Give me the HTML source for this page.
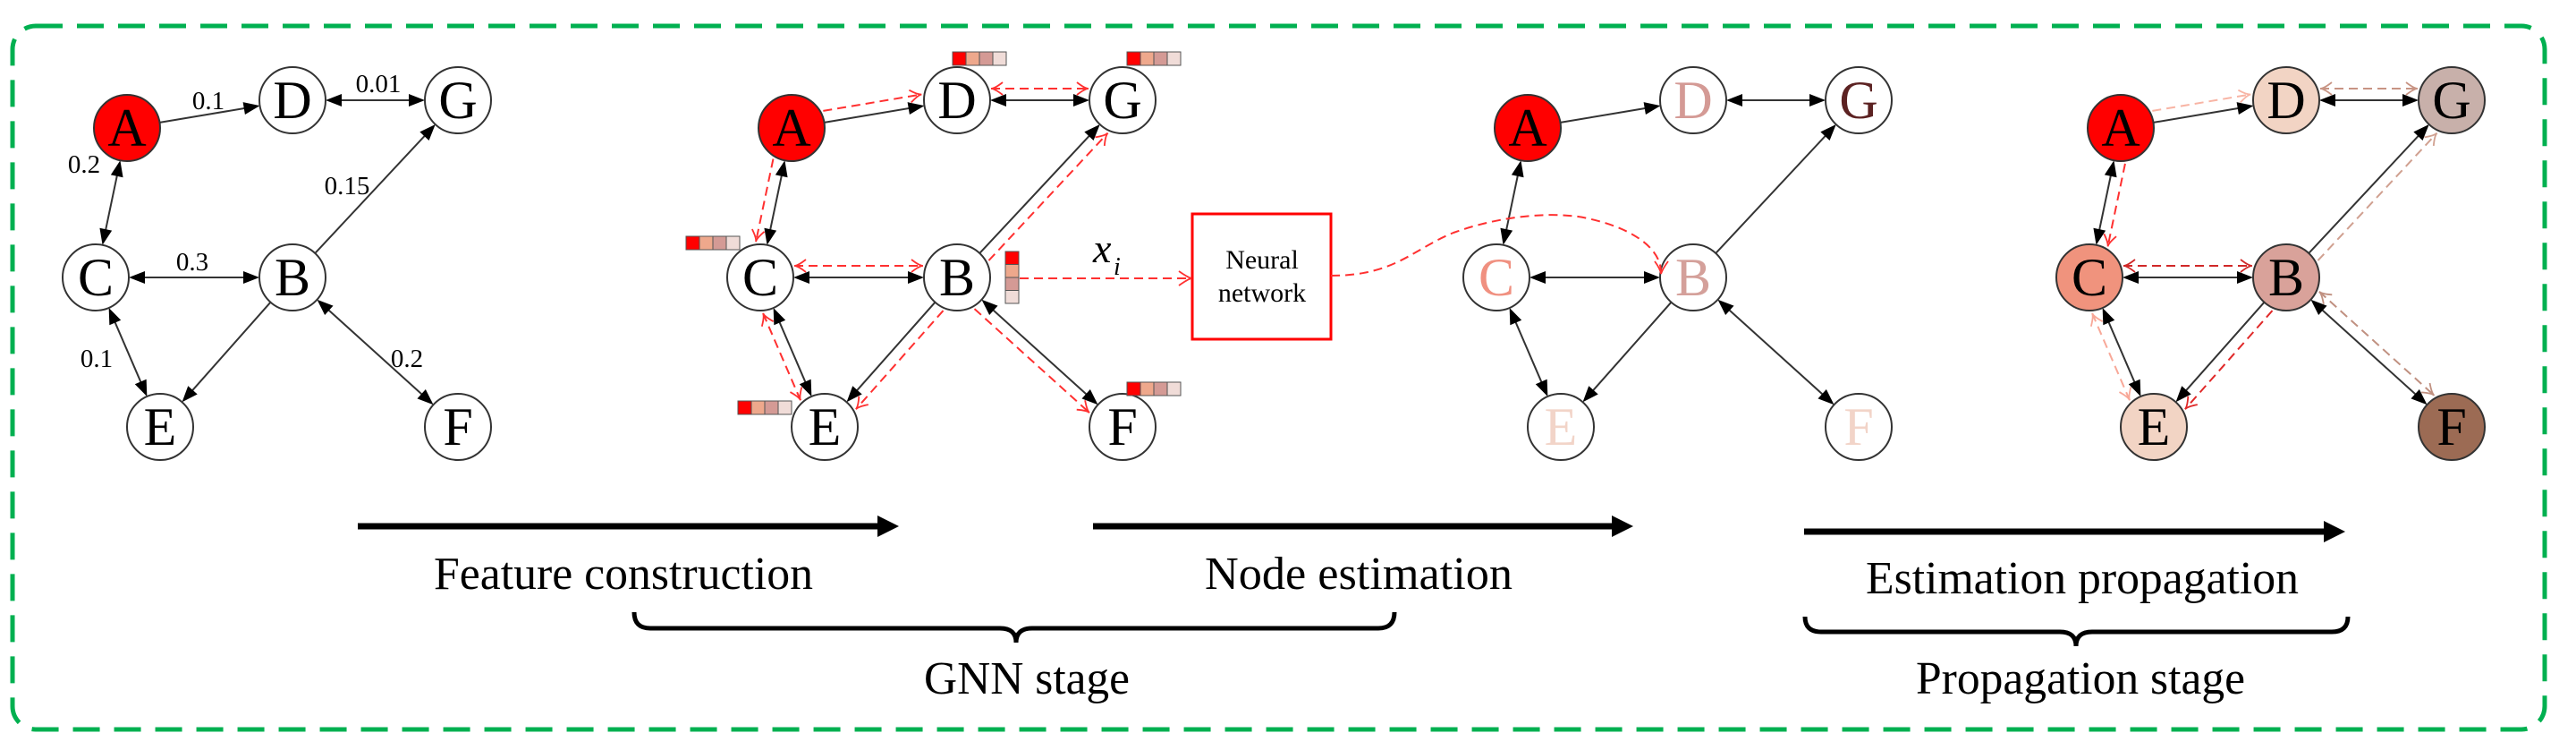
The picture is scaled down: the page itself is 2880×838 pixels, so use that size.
<!DOCTYPE html>
<html><head><meta charset="utf-8"><style>
html,body{margin:0;padding:0;background:#fff;}
svg{display:block;}
svg text{font-family:"Liberation Serif","Times New Roman",Times,"DejaVu Serif","Noto Serif CJK SC",serif !important;}
</style></head><body>
<svg id="s" width="2880" height="838" viewBox="0 0 2880 838" xmlns="http://www.w3.org/2000/svg">
<rect x="14" y="29" width="2831" height="786" rx="26" ry="26" fill="none" stroke="#00b050" stroke-width="5" stroke-dasharray="30 16"/>
<g id="edges"></g>
<g id="nodes"></g>
<g id="bars"></g>
<rect x="1333" y="239" width="155" height="140" fill="#fff" stroke="#ff0000" stroke-width="3"/>
<text x="1411" y="300" font-size="30" text-anchor="middle">Neural</text>
<text x="1411" y="337" font-size="30" text-anchor="middle">network</text>
<text x="1222" y="293" font-size="46" font-style="italic">x</text>
<text x="1245" y="307" font-size="28" font-style="italic">i</text>
<g font-size="29" text-anchor="middle">
<text x="233" y="122">0.1</text>
<text x="423" y="103">0.01</text>
<text x="94" y="193">0.2</text>
<text x="388" y="217">0.15</text>
<text x="215" y="302">0.3</text>
<text x="108" y="410">0.1</text>
<text x="455" y="410">0.2</text>
</g>
<g font-size="60" text-anchor="middle" id="labels">
<text x="142" y="163">A</text><text x="327" y="132">D</text><text x="512" y="132">G</text><text x="107" y="330">C</text><text x="327" y="330">B</text><text x="179" y="497">E</text><text x="512" y="497">F</text>
<text x="885" y="163">A</text><text x="1070" y="132">D</text><text x="1255" y="132">G</text><text x="850" y="330">C</text><text x="1070" y="330">B</text><text x="922" y="497">E</text><text x="1255" y="497">F</text>
<text x="1708" y="163">A</text><text x="1893" y="132" fill="#d49a95">D</text><text x="2078" y="132" fill="#5c2222">G</text><text x="1673" y="330" fill="#f09080">C</text><text x="1893" y="330" fill="#d4a09a">B</text><text x="1745" y="497" fill="#f2d4c8">E</text><text x="2078" y="497" fill="#f2d4c8">F</text>
<text x="2371" y="163">A</text><text x="2556" y="132">D</text><text x="2741" y="132">G</text><text x="2336" y="330">C</text><text x="2556" y="330">B</text><text x="2408" y="497">E</text><text x="2741" y="497">F</text>
</g>
<g fill="#000">
<line x1="400" y1="588" x2="985" y2="588" stroke="#000" stroke-width="7"/>
<polygon points="981,576 1005,588 981,600"/>
<line x1="1222" y1="588" x2="1806" y2="588" stroke="#000" stroke-width="7"/>
<polygon points="1802,576 1826,588 1802,600"/>
<line x1="2017" y1="594" x2="2602" y2="594" stroke="#000" stroke-width="7"/>
<polygon points="2598,582 2622,594 2598,606"/>
</g>
<g font-size="52" text-anchor="middle">
<text x="697" y="658" textLength="424" lengthAdjust="spacingAndGlyphs">Feature construction</text>
<text x="1519" y="658" textLength="344" lengthAdjust="spacingAndGlyphs">Node estimation</text>
<text x="2328" y="663" textLength="484" lengthAdjust="spacingAndGlyphs">Estimation propagation</text>
<text x="1148" y="775" textLength="230" lengthAdjust="spacingAndGlyphs">GNN stage</text>
<text x="2326" y="775" textLength="368" lengthAdjust="spacingAndGlyphs">Propagation stage</text>
</g>
<g fill="none" stroke="#000" stroke-width="5">
<path d="M709,684 Q709,702 727,702 L1118,702 Q1136,702 1136,718 Q1136,702 1154,702 L1541,702 Q1559,702 1559,684"/>
<path d="M2018,689 Q2018,706 2036,706 L2303,706 Q2321,706 2321,722 Q2321,706 2339,706 L2607,706 Q2625,706 2625,689"/>
</g>
<g id="extra"></g>
</svg>
<script>
var NS="http://www.w3.org/2000/svg";
function el(t,a,p){var e=document.createElementNS(NS,t);for(var k in a)e.setAttribute(k,a[k]);(p||document.getElementById('edges')).appendChild(e);return e;}
var B={A:[142,143],D:[327,112],G:[512,112],C:[107,310],B:[327,310],E:[179,477],F:[512,477]};
var OFF=[0,743,1566,2229],R=37;
function P(n,i){return [B[n][0]+OFF[i],B[n][1]];}
var E=[["A","D",0,1],["D","G",1,1],["A","C",1,1],["C","B",1,1],["B","G",0,1],["B","E",0,1],["C","E",1,1],["B","F",1,1]];
function head(x,y,ux,uy,col){var L=18,W=7;var bx=x-ux*L,by=y-uy*L;
 el('polygon',{points:x+','+y+' '+(bx-uy*W)+','+(by+ux*W)+' '+(bx+uy*W)+','+(by-ux*W),fill:col});}
function vhead(x,y,ux,uy,col){var L=13,W=7;var bx=x-ux*L,by=y-uy*L;
 el('path',{d:'M'+(bx-uy*W)+','+(by+ux*W)+' Q'+(x-ux*4)+','+(y-uy*4)+' '+x+','+y+' Q'+(x-ux*4)+','+(y-uy*4)+' '+(bx+uy*W)+','+(by-ux*W),fill:'none',stroke:col,'stroke-width':1.8});}
for(var i=0;i<4;i++){E.forEach(function(e){var a=P(e[0],i),b=P(e[1],i);var dx=b[0]-a[0],dy=b[1]-a[1],l=Math.hypot(dx,dy),ux=dx/l,uy=dy/l;
 var x1=a[0]+ux*R,y1=a[1]+uy*R,x2=b[0]-ux*R,y2=b[1]-uy*R;
 el('line',{x1:x1+(e[2]?ux*16:0),y1:y1+(e[2]?uy*16:0),x2:x2-ux*16,y2:y2-uy*16,stroke:'#333','stroke-width':2});
 head(x2,y2,ux,uy,'#000'); if(e[2])head(x1,y1,-ux,-uy,'#000');});}
var D2=[["A","D",-1,0,"#ff3030"],["D","G",-1,1,"#ff3030"],["A","C",1,0,"#ff3030"],["C","B",-1,1,"#ff3030"],["C","E",1,1,"#ff3030"],["B","E",-1,0,"#ff3030"],["B","G",1,0,"#ff3030"],["B","F",1,0,"#ff3030"]];
var D4=[["A","D",-1,0,"#f8b4a4"],["D","G",-1,1,"#c89484"],["A","C",-1,0,"#ff3030"],["C","B",-1,1,"#d02828"],["C","E",1,1,"#f8a898"],["B","E",-1,0,"#e02828"],["B","G",1,0,"#d0a090"],["B","F",-1,1,"#c09080"]];
function dashed(list,i){list.forEach(function(e){var a=P(e[0],i),b=P(e[1],i);var dx=b[0]-a[0],dy=b[1]-a[1],l=Math.hypot(dx,dy),ux=dx/l,uy=dy/l;
 var nx=-uy*e[2]*13,ny=ux*e[2]*13;var r=R+1;
 var x1=a[0]+ux*r+nx,y1=a[1]+uy*r+ny,x2=b[0]-ux*r+nx,y2=b[1]-uy*r+ny;
 el('line',{x1:x1,y1:y1,x2:x2,y2:y2,stroke:e[4],'stroke-width':2,'stroke-dasharray':'10 6'});
 vhead(x2,y2,ux,uy,e[4]); if(e[3])vhead(x1,y1,-ux,-uy,e[4]);});}
dashed(D2,1);dashed(D4,3);
var fills=[{A:'#ff0000'},{A:'#ff0000'},{A:'#ff0000'},{A:'#ff0000',D:'#f2d4c4',G:'#c8b0aa',C:'#f0937d',B:'#d9a29a',E:'#f2d4c4',F:'#9c6b54'}];
var ng=document.getElementById('nodes');
for(var i=0;i<4;i++)for(var n in B){var p=P(n,i);el('ellipse',{cx:p[0],cy:p[1],rx:37,ry:37,fill:fills[i][n]||'#fff',stroke:'#333','stroke-width':2},ng);}
var bg=document.getElementById('bars');var cols=['#ff0000','#eea88c','#d49a95','#f0dcd8'];
function hbar(x,y){for(var k=0;k<4;k++)el('rect',{x:x+k*15,y:y,width:15,height:15,fill:cols[k],stroke:'#555','stroke-width':1},bg);}
hbar(1065,58);hbar(1260,58);hbar(767,264);hbar(825,448);hbar(1260,427);
for(var k=0;k<4;k++)el('rect',{x:1124,y:281+k*14.5,width:15,height:14.5,fill:cols[k],stroke:'#555','stroke-width':1},bg);
var ex=document.getElementById('extra');
el('line',{x1:1140,y1:311,x2:1331,y2:311,stroke:'#ff3030','stroke-width':2,'stroke-dasharray':'10 6'},ex);
el('path',{d:'M1318,303 Q1328,310 1332,311 Q1328,312 1318,319',fill:'none',stroke:'#ff3030','stroke-width':1.8},ex);
el('path',{d:'M1488,308 C1560,308 1580,278 1625,260 C1680,240 1740,236 1775,244 C1830,256 1857,280 1857,304',fill:'none',stroke:'#ff3030','stroke-width':2,'stroke-dasharray':'10 6'},ex);
el('path',{d:'M1850,292 Q1856,300 1857,306 Q1859,300 1865,292',fill:'none',stroke:'#ff3030','stroke-width':1.8},ex);
</script>
</body></html>
